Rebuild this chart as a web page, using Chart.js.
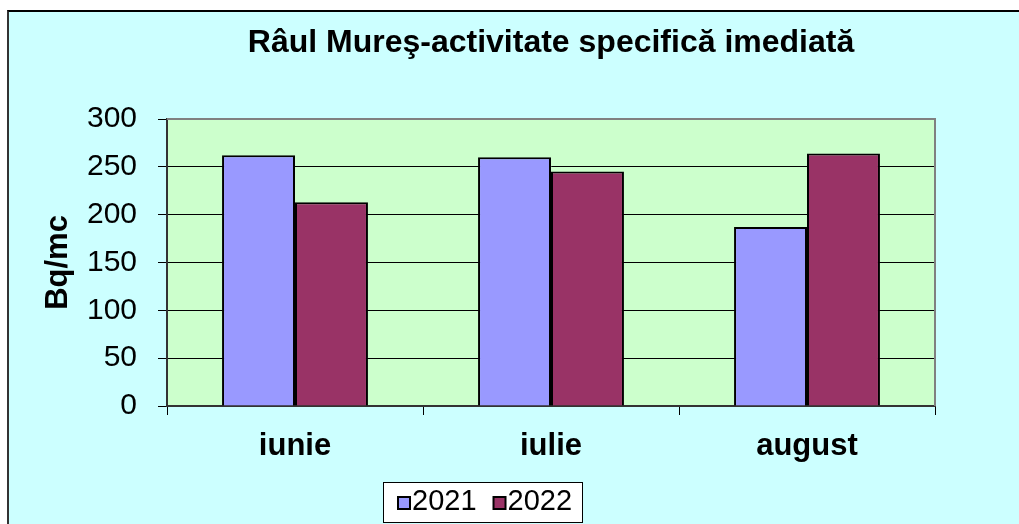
<!DOCTYPE html>
<html>
<head>
<meta charset="utf-8">
<title>Râul Mureş-activitate specifică imediată</title>
<script src="https://cdn.jsdelivr.net/npm/chart.js@4"></script>
<style>
  html, body { margin: 0; padding: 0; background: #fff; overflow: hidden; }
  #box {
    position: absolute; left: 7px; top: 10px;
    width: 1010px; height: 512px;
    background: #ccffff;
    border-left: 2px solid #333; border-top: 2px solid #000;
  }
  canvas { display: block; }
</style>
</head>
<body>
<div id="box"><canvas id="chart" width="1010" height="512"></canvas></div>
<script>
var months = ["iunie", "iulie", "august"];
var seriesNames = ["2021", "2022"];
var values2021 = [262, 260, 187];
var values2022 = [213, 245, 264];
var seriesColors = ["#9999ff", "#993366"];
var yMin = 0, yMax = 300, yStep = 50;

var font = "'Liberation Sans', Arial, sans-serif";

// plot fill, grey frame and the boxed legend (drawn by hand, Excel style)
var excelLook = {
  id: "excelLook",
  beforeDraw: function (chart) {
    var a = chart.chartArea, ctx = chart.ctx;
    ctx.save();
    ctx.fillStyle = "#ccffcc";
    ctx.fillRect(a.left, a.top, a.right - a.left, a.bottom - a.top);
    ctx.restore();
  },
  afterDatasetsDraw: function (chart) {
    var a = chart.chartArea, ctx = chart.ctx;
    ctx.save();
    ctx.strokeStyle = "#808080";
    ctx.lineWidth = 2;
    ctx.beginPath();
    ctx.moveTo(a.left, a.top);
    ctx.lineTo(a.right, a.top);
    ctx.lineTo(a.right, a.bottom);
    ctx.stroke();
    ctx.restore();
  },
  afterDraw: function (chart) {
    var ctx = chart.ctx;
    ctx.save();
    ctx.fillStyle = "#fff";
    ctx.fillRect(374, 470, 199, 40);
    ctx.strokeStyle = "#000";
    ctx.lineWidth = 1;
    ctx.strokeRect(374.5, 470.5, 199, 40);
    ctx.font = "29px " + font;
    ctx.textBaseline = "middle";
    var x = 389;
    chart.data.datasets.forEach(function (ds) {
      ctx.fillStyle = ds.backgroundColor;
      ctx.fillRect(x, 485, 12, 12);
      ctx.lineWidth = 2;
      ctx.strokeStyle = "#000";
      ctx.strokeRect(x, 485, 12, 12);
      ctx.fillStyle = "#000";
      ctx.fillText(ds.label, x + 14, 490);
      x += 14 + ctx.measureText(ds.label).width + 17;
    });
    ctx.restore();
  }
};

var ctx = document.getElementById("chart").getContext("2d");
var chart = new Chart(ctx, {
  type: "bar",
  data: {
    labels: months,
    datasets: [
      {
        label: seriesNames[0],
        data: values2021,
        backgroundColor: seriesColors[0],
        borderColor: "#000",
        borderWidth: 2,
      },
      {
        label: seriesNames[1],
        data: values2022,
        backgroundColor: seriesColors[1],
        borderColor: "#000",
        borderWidth: 2,
      },
    ],
  },
  options: {
    responsive: false,
    animation: false,
    layout: { padding: { left: 0, right: 84, top: 0, bottom: 0 } },
    datasets: {
      bar: { categoryPercentage: 0.57, barPercentage: 1 },
    },
    plugins: {
      legend: { display: false },
      tooltip: { enabled: false },
      title: {
        display: true,
        fullSize: false,
        text: "Râul Mureş-activitate specifică imediată",
        color: "#000",
        font: { family: font, size: 32, weight: "bold" },
        padding: { top: 12, bottom: 56.6 },
      },
    },
    scales: {
      x: {
        afterFit: function (scale) { scale.height = 118; },
        grid: { drawOnChartArea: false, tickLength: 9, color: "#000" },
        border: { color: "#333", width: 2 },
        ticks: {
          color: "#000",
          padding: 13,
          font: { family: font, size: 31, weight: "bold" },
        },
      },
      y: {
        min: yMin,
        max: yMax,
        afterFit: function (scale) { scale.width = 158; },
        grid: { color: "#000", lineWidth: 1, tickLength: 9 },
        border: { color: "#333", width: 2 },
        ticks: {
          stepSize: yStep,
          color: "#000",
          padding: 21,
          font: { family: font, size: 30 },
        },
        title: {
          display: true,
          text: "Bq/mc",
          color: "#000",
          font: { family: font, size: 31, weight: "bold" },
          padding: { top: 31, bottom: 0 },
        },
      },
    },
  },
  plugins: [excelLook],
});
</script>
</body>
</html>
